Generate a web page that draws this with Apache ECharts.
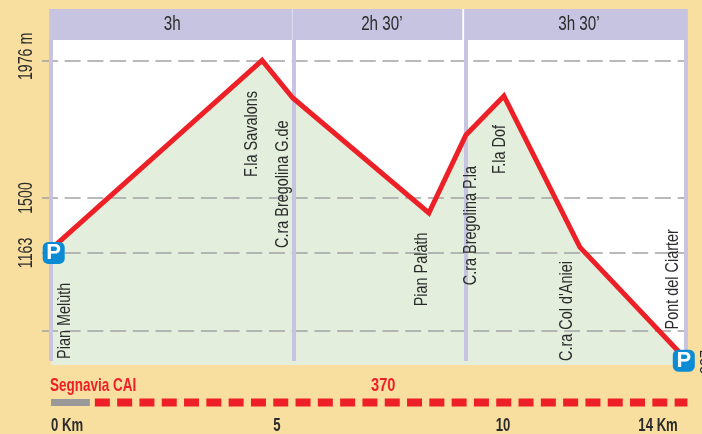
<!DOCTYPE html>
<html>
<head>
<meta charset="utf-8">
<style>html,body{margin:0;padding:0;background:#f8dfa0}#chart{width:702px;height:434px}</style>
<script src="https://cdn.jsdelivr.net/npm/echarts@6/dist/echarts.min.js"></script>
</head>
<body>
<div id="chart"></div>
<script>
// heights are on the drawn scale of the profile: the printed tick labels are not linear
var profileKm = [0, 4.67, 5.35, 8.36, 9.18, 10.02, 11.7, 14];
var profileHeight = [1323, 1976, 1846, 1448, 1718, 1853, 1330, 950];
var heightTicks = [1976, 1500, 1310, 1041];
var heightLabels = ['1976 m', '1500', '1163', ''];
var sectionBars = [0, 5.36, 9.18, 14.05];
var sectionNames = ['3h', '2h 30’', '3h 30’'];
var sectionStart = [-0.04, 5.34, 9.14];
var sectionEnd = [5.33, 9.1, 14.09];
var sectionLabelKm = [2.68, 7.32, 11.68];
var stopNames = ['Pian Melùth', 'F.la Savalons', 'C.ra Bregolina G.de', 'Pian Palàth', 'C.ra Bregolina P.la', 'F.la Dof', "C.ra Col d'Aniei", 'Pont del Ciarter'];
var stopLabelKm = [0.31, 4.45, 5.13, 8.21, 9.29, 9.93, 11.42, 13.76];
var stopLabelHeight = [943, 1573, 1327, 1125, 1198, 1583, 936, 1045];
var parkingKm = [0.06, 14];
var parkingHeight = [1310, 937];
var kmTicks = [0, 5, 10, 14];
var kmLabels = ['0 Km', '5', '10', '14 Km'];
var roadKm = [0, 0.86];
var trailKm = [0.97, 14.08];

var font = '"Liberation Sans", sans-serif';
var textColor = '#2b2b2b';
var lilac = '#c7c4e2';
var red = '#ee2027';
var kmMin = -0.199;
var kmMax = 14.115;
var bottomHeight = 922;
var panelHeight = 2047;
var topHeight = 2154;

// no condensed font here, so the text is squeezed along its own direction
function narrowText(x, y, text, opt) {
    return {
        type: 'text',
        x: x,
        y: y,
        rotation: opt.vertical ? Math.PI / 2 : 0,
        scaleX: opt.squeeze,
        style: {
            text: text,
            fill: opt.color || textColor,
            font: (opt.bold ? 'bold ' : '') + opt.size + 'px ' + font,
            align: opt.align || 'center',
            verticalAlign: 'middle'
        }
    };
}

var headerAreas = sectionNames.map(function(name, i) {
    return [{
        xAxis: sectionStart[i],
        yAxis: panelHeight,
        itemStyle: { color: lilac }
    }, { xAxis: sectionEnd[i], yAxis: topHeight }];
});
var whiteArea = [{ xAxis: 0.04, yAxis: bottomHeight, itemStyle: { color: '#fff' } }, { xAxis: 14.04, yAxis: topHeight }];

var chart = echarts.init(document.getElementById('chart'));
chart.setOption({
    animation: false,
    backgroundColor: '#f8dfa0',
    grid: [
        { left: 42, width: 647, top: 9, height: 356 },
        { left: 42, width: 647, top: 395, height: 15 }
    ],
    xAxis: [{
        gridIndex: 0,
        type: 'value',
        min: kmMin,
        max: kmMax,
        show: false
    }, {
        gridIndex: 1,
        type: 'value',
        min: kmMin,
        max: kmMax,
        show: false
    }],
    yAxis: [{
        gridIndex: 0,
        type: 'value',
        min: bottomHeight,
        max: topHeight,
        show: false
    }, {
        gridIndex: 1,
        type: 'value',
        min: 0,
        max: 1,
        show: false
    }],
    graphic: [
        { type: 'text', x: 50, y: 386, scaleX: 0.71, z: 20, style: { text: 'Segnavia CAI', fill: red, font: 'bold 19px ' + font, verticalAlign: 'middle' } },
        { type: 'text', x: 371, y: 386, scaleX: 0.77, z: 20, style: { text: '370', fill: red, font: 'bold 19px ' + font, verticalAlign: 'middle' } },
        { type: 'text', x: 699, y: 362, rotation: Math.PI / 2, scaleX: 0.85, z: 20, style: { text: '837', fill: textColor, font: '17px ' + font, align: 'center', verticalAlign: 'top' } }
    ],
    series: [{
        // terrain with the white panel and the section headers behind it
        name: 'terrain',
        type: 'line',
        z: 2,
        silent: true,
        symbol: 'none',
        lineStyle: { width: 0 },
        areaStyle: { color: '#e3efdc', opacity: 1 },
        data: profileKm.map(function(km, i) { return [km, profileHeight[i]]; }),
        markArea: { silent: true, z: 1, data: [whiteArea].concat(headerAreas) },
        markLine: {
            silent: true,
            z: 2,
            symbol: 'none',
            label: { show: false },
            lineStyle: { color: '#f0f7ec', width: 1, type: 'solid' },
            data: [[{ xAxis: 0, yAxis: bottomHeight + 1 }, { xAxis: 13.8, yAxis: bottomHeight + 1 }]]
        }
    }, {
        name: 'height lines',
        type: 'line',
        data: [],
        markLine: {
            silent: true,
            z: 3,
            symbol: 'none',
            label: { show: false },
            lineStyle: { color: '#a3a3a3', width: 1.7, type: [16, 6.7] },
            data: heightTicks.map(function(h) {
                return [{ xAxis: kmMin, yAxis: h }, { xAxis: 14.09, yAxis: h }];
            })
        }
    }, {
        name: 'section bars',
        type: 'line',
        data: [],
        markLine: {
            silent: true,
            z: 4,
            symbol: 'none',
            label: { show: false },
            lineStyle: { color: lilac, width: 4, type: 'solid' },
            data: sectionBars.map(function(km) {
                return [{ xAxis: km, yAxis: 936 }, { xAxis: km, yAxis: panelHeight }];
            })
        }
    }, {
        name: 'profile',
        type: 'line',
        z: 10,
        symbol: 'none',
        lineStyle: { color: red, width: 5, join: 'miter' },
        data: profileKm.map(function(km, i) { return [km, profileHeight[i]]; })
    }, {
        name: 'section times',
        type: 'custom',
        z: 12,
        silent: true,
        data: sectionLabelKm.map(function(km) { return [km, 2102]; }),
        renderItem: function(params, api) {
            var p = api.coord([api.value(0), api.value(1)]);
            return narrowText(p[0], p[1], sectionNames[params.dataIndex], { size: 20, squeeze: 0.76 });
        }
    }, {
        name: 'height labels',
        type: 'custom',
        z: 12,
        silent: true,
        data: heightTicks.map(function(h) { return [kmMin, h]; }),
        renderItem: function(params, api) {
            var p = api.coord([api.value(0), api.value(1)]);
            var shift = params.dataIndex === 0 ? -4 : 0;
            return narrowText(p[0] - 16, p[1] + shift, heightLabels[params.dataIndex], { size: 20, squeeze: 0.71, vertical: true });
        }
    }, {
        name: 'stops',
        type: 'custom',
        z: 12,
        silent: true,
        data: stopLabelKm.map(function(km, i) { return [km, stopLabelHeight[i]]; }),
        renderItem: function(params, api) {
            var p = api.coord([api.value(0), api.value(1)]);
            return narrowText(p[0], p[1], stopNames[params.dataIndex], { size: 19, squeeze: 0.76, vertical: true, align: 'left' });
        }
    }, {
        name: 'parking',
        type: 'scatter',
        z: 13,
        clip: false,
        symbol: 'roundRect',
        symbolSize: 22,
        itemStyle: { color: '#0a8bd3', opacity: 1 },
        label: {
            show: true,
            position: 'inside',
            formatter: 'P',
            color: '#fff',
            fontFamily: font,
            fontWeight: 'bold',
            fontSize: 22
        },
        data: parkingKm.map(function(km, i) { return [km, parkingHeight[i]]; })
    }, {
        name: 'road',
        type: 'line',
        xAxisIndex: 1,
        yAxisIndex: 1,
        symbol: 'none',
        lineStyle: { color: '#999999', width: 7, cap: 'butt' },
        data: roadKm.map(function(km) { return [km, 0.5]; })
    }, {
        name: 'trail 370',
        type: 'line',
        xAxisIndex: 1,
        yAxisIndex: 1,
        symbol: 'none',
        lineStyle: { color: red, width: 8, cap: 'butt', type: [15, 7.3] },
        data: trailKm.map(function(km) { return [km, 0.5]; })
    }, {
        name: 'km labels',
        type: 'custom',
        xAxisIndex: 1,
        yAxisIndex: 1,
        z: 12,
        silent: true,
        data: kmTicks.map(function(km) { return [km, 0.5]; }),
        renderItem: function(params, api) {
            var i = params.dataIndex;
            var p = api.coord([api.value(0), api.value(1)]);
            var first = i === 0;
            var last = i === kmTicks.length - 1;
            return narrowText(p[0] + (last ? -6 : 0), p[1] + 23.5, kmLabels[i], {
                size: 18,
                bold: true,
                squeeze: 0.73,
                align: first ? 'left' : (last ? 'right' : 'center')
            });
        }
    }]
});
window.onresize = function() {
    chart.resize();
};
</script>
</body>
</html>
